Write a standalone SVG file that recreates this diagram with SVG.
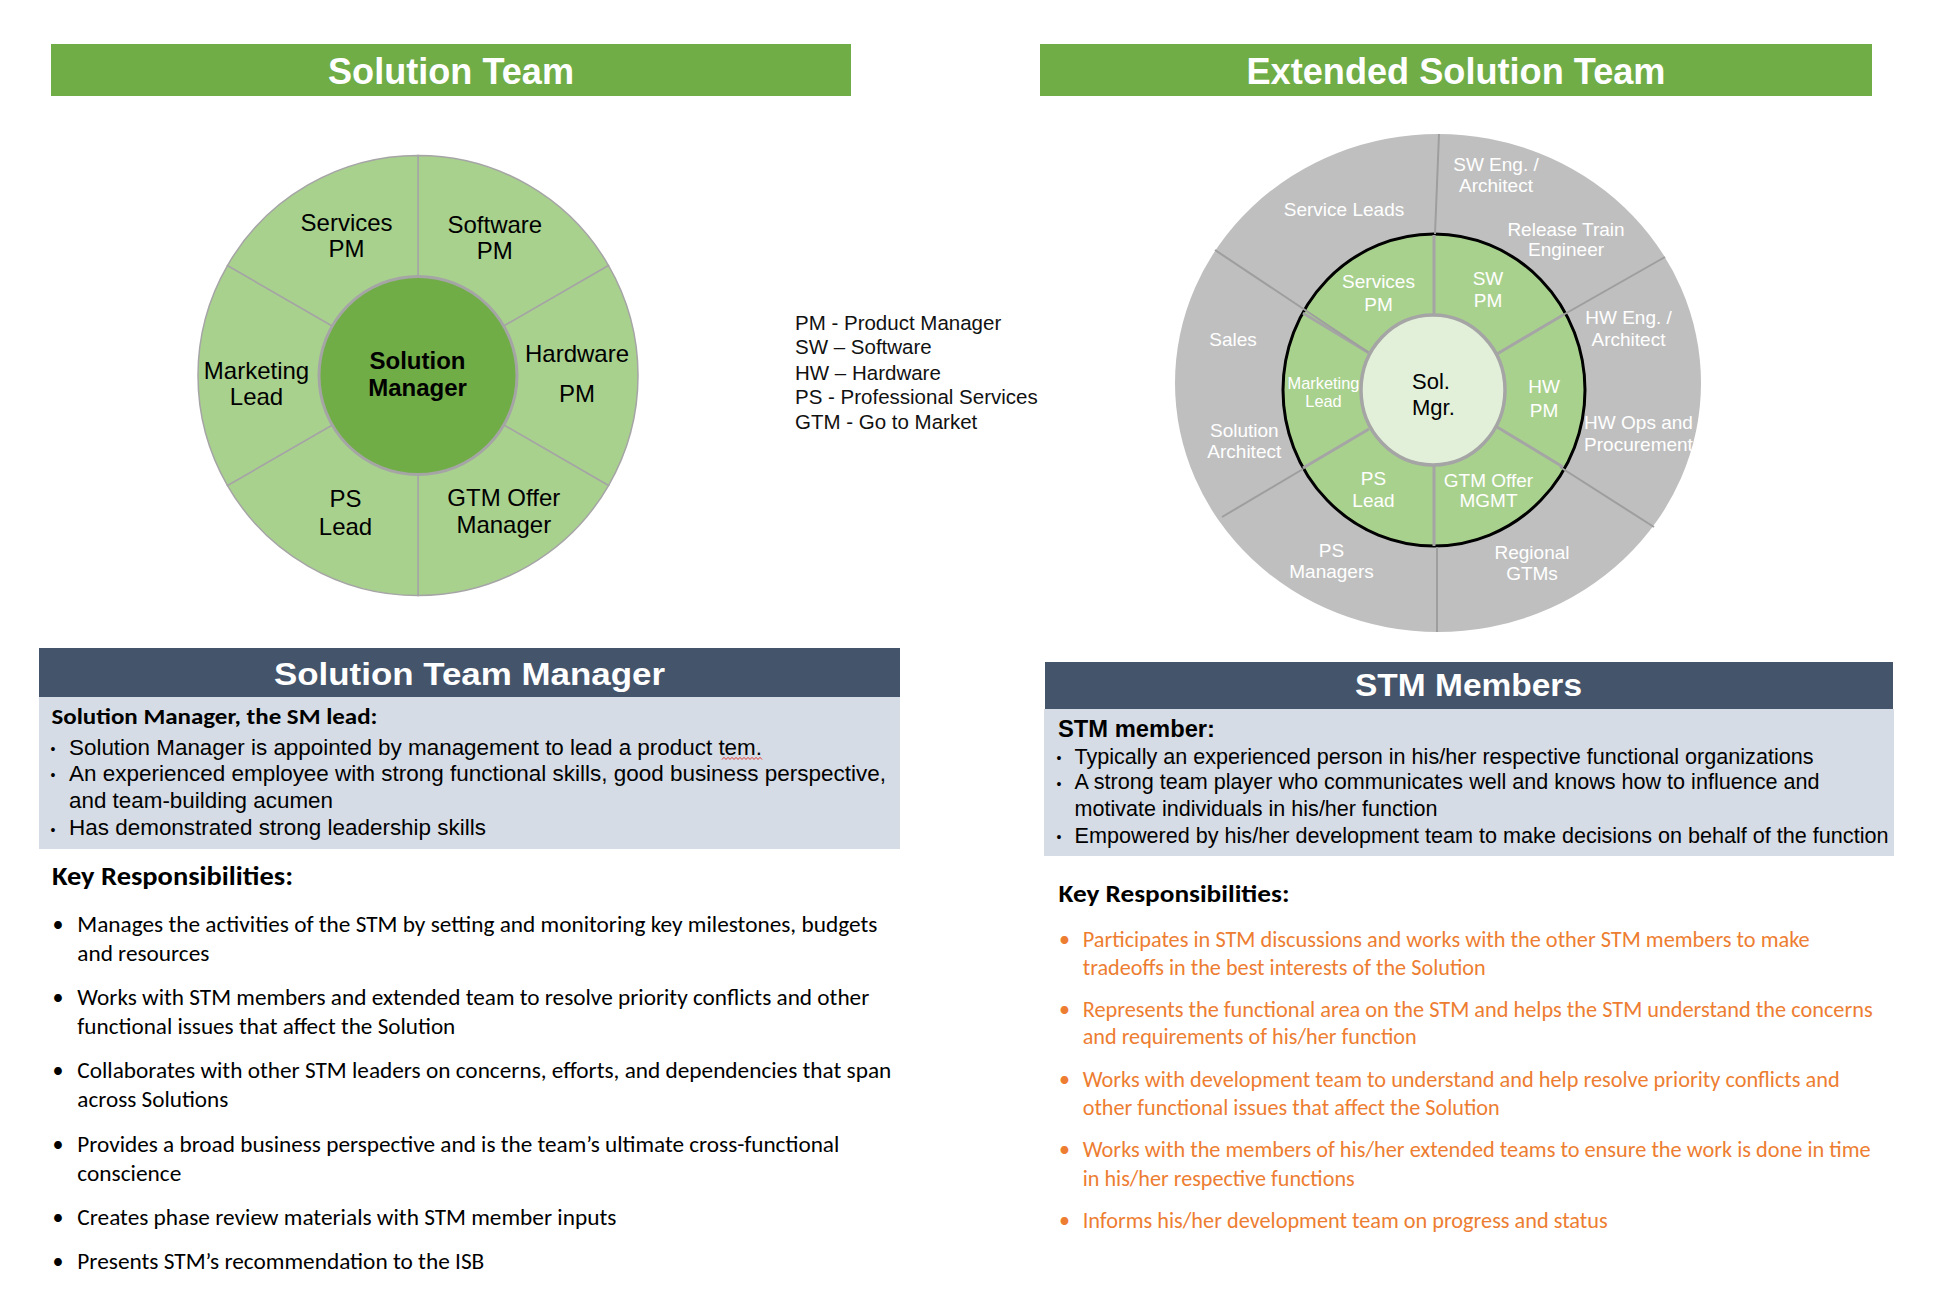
<svg xmlns="http://www.w3.org/2000/svg" width="1960" height="1304" viewBox="0 0 1960 1304">
<style>
.ar{font-family:"Liberation Sans",Arial,sans-serif}
.ca{font-family:Carlito,Lato,"Liberation Sans",sans-serif}
.b{font-weight:bold}
.m{text-anchor:middle}
.banner{fill:#70AD47}
.btitle{font-size:37px;fill:#fff;font-weight:bold}
.hdr{fill:#44546A}
.htitle{font-size:32px;fill:#fff;font-weight:bold}
.lbox{fill:#D6DCE5}
.sec{fill:#A9D18E;stroke:#A5A5A5;stroke-width:1.5}
.l24{font-size:24px;fill:#000}
.w19{font-size:19px;fill:#fff}
.w16{font-size:16.4px;fill:#fff}
.leg{font-size:20.5px;fill:#111}
.bt{font-size:22.4px;fill:#000}
.bt2{font-size:21.6px;fill:#000}
.li{font-size:22px;fill:#000}
.lo{font-size:22px;fill:#ED7D31}
.div{stroke:#A5A5A5;stroke-width:3;fill:none}
.odiv{stroke:#9E9E9E;stroke-width:2;fill:none}
</style>
<rect width="1960" height="1304" fill="#fff"/>

<!-- Solution Team banner -->
<g id="solution-team-banner">
<rect class="banner" x="51" y="44" width="800" height="52"/>
<text class="ar btitle m" x="451" y="84" textLength="246" lengthAdjust="spacingAndGlyphs">Solution Team</text>
</g>

<!-- Solution Team wheel -->
<g id="solution-team-wheel">
<g id="st-software-pm">
<path class="sec" d="M418,155.5 A220,220 0 0 1 608.53,265.5 L503.74,326 A99,99 0 0 0 418,276.5 Z"/>
<text class="ar l24 m" x="494.8" y="233">Software</text>
<text class="ar l24 m" x="494.8" y="259">PM</text>
</g>
<g id="st-hardware-pm">
<path class="sec" d="M608.53,265.5 A220,220 0 0 1 608.53,485.5 L503.74,425 A99,99 0 0 0 503.74,326 Z"/>
<text class="ar l24 m" x="577" y="362.3">Hardware</text>
<text class="ar l24 m" x="577" y="402.3">PM</text>
</g>
<g id="st-gtm-offer-manager">
<path class="sec" d="M608.53,485.5 A220,220 0 0 1 418,595.5 L418,474.5 A99,99 0 0 0 503.74,425 Z"/>
<text class="ar l24 m" x="503.8" y="505.7">GTM Offer</text>
<text class="ar l24 m" x="503.8" y="533">Manager</text>
</g>
<g id="st-ps-lead">
<path class="sec" d="M418,595.5 A220,220 0 0 1 227.47,485.5 L332.26,425 A99,99 0 0 0 418,474.5 Z"/>
<text class="ar l24 m" x="345.5" y="507.3">PS</text>
<text class="ar l24 m" x="345.5" y="534.7">Lead</text>
</g>
<g id="st-marketing-lead">
<path class="sec" d="M227.47,485.5 A220,220 0 0 1 227.47,265.5 L332.26,326 A99,99 0 0 0 332.26,425 Z"/>
<text class="ar l24 m" x="256.5" y="379">Marketing</text>
<text class="ar l24 m" x="256.5" y="405">Lead</text>
</g>
<g id="st-services-pm">
<path class="sec" d="M227.47,265.5 A220,220 0 0 1 418,155.5 L418,276.5 A99,99 0 0 0 332.26,326 Z"/>
<text class="ar l24 m" x="346.6" y="230.7">Services</text>
<text class="ar l24 m" x="346.6" y="257.3">PM</text>
</g>
<g id="st-solution-manager">
<circle cx="418" cy="375.5" r="99" fill="#70AD47" stroke="#A5A5A5" stroke-width="3"/>
<text class="ar l24 b m" x="417.5" y="369">Solution</text>
<text class="ar l24 b m" x="417.5" y="396">Manager</text>
</g>
</g>

<!-- Legend -->
<g id="legend">
<text class="ar leg" x="795" y="330">PM - Product Manager</text>
<text class="ar leg" x="795" y="354">SW – Software</text>
<text class="ar leg" x="795" y="380">HW – Hardware</text>
<text class="ar leg" x="795" y="404">PS - Professional Services</text>
<text class="ar leg" x="795" y="429.3">GTM - Go to Market</text>
</g>

<!-- Extended Solution Team banner -->
<g id="extended-team-banner">
<rect class="banner" x="1040" y="44" width="832" height="52"/>
<text class="ar btitle m" x="1456" y="84" textLength="419" lengthAdjust="spacingAndGlyphs">Extended Solution Team</text>
</g>

<!-- Extended Solution Team wheel -->
<g id="extended-team-wheel">
<g id="ext-outer-ring">
<ellipse cx="1438" cy="383" rx="263" ry="249" fill="#BFBFBF"/>
</g>
<g id="ext-inner-ring">
<ellipse cx="1434" cy="390" rx="151" ry="156" fill="#A9D18E" stroke="#000" stroke-width="3"/>
</g>
<g id="ext-dividers">
<line class="div" x1="1434" y1="235" x2="1434" y2="316"/>
<line class="div" x1="1497" y1="354" x2="1563" y2="315"/>
<line class="div" x1="1497" y1="427" x2="1563" y2="467"/>
<line class="div" x1="1434" y1="464" x2="1434" y2="546"/>
<line class="div" x1="1369" y1="429" x2="1303" y2="468"/>
<line class="div" x1="1369" y1="353" x2="1303" y2="313"/>
<line class="odiv" x1="1439" y1="134" x2="1435" y2="234"/>
<line class="odiv" x1="1665" y1="257" x2="1563" y2="315"/>
<line class="odiv" x1="1654" y1="527" x2="1560" y2="467"/>
<line class="odiv" x1="1437" y1="547" x2="1437" y2="632"/>
<line class="odiv" x1="1222" y1="517" x2="1303" y2="469"/>
<line class="odiv" x1="1215" y1="250" x2="1368" y2="352"/>
</g>
<g id="ext-sw-eng-architect">
<text class="ar w19 m" x="1496" y="170.7">SW Eng. /</text>
<text class="ar w19 m" x="1496" y="192">Architect</text>
</g>
<g id="ext-service-leads">
<text class="ar w19 m" x="1344" y="216.4">Service Leads</text>
</g>
<g id="ext-release-train-engineer">
<text class="ar w19 m" x="1566" y="235.7">Release Train</text>
<text class="ar w19 m" x="1566" y="256">Engineer</text>
</g>
<g id="ext-hw-eng-architect">
<text class="ar w19 m" x="1628.5" y="324">HW Eng. /</text>
<text class="ar w19 m" x="1628.5" y="345.7">Architect</text>
</g>
<g id="ext-sales">
<text class="ar w19 m" x="1233" y="346.4">Sales</text>
</g>
<g id="ext-solution-architect">
<text class="ar w19 m" x="1244.3" y="436.8">Solution</text>
<text class="ar w19 m" x="1244.3" y="458.2">Architect</text>
</g>
<g id="ext-hw-ops-procurement">
<text class="ar w19 m" x="1638.5" y="429">HW Ops and</text>
<text class="ar w19 m" x="1638.5" y="451">Procurement</text>
</g>
<g id="ext-ps-managers">
<text class="ar w19 m" x="1331.5" y="557">PS</text>
<text class="ar w19 m" x="1331.5" y="577.5">Managers</text>
</g>
<g id="ext-regional-gtms">
<text class="ar w19 m" x="1532" y="559">Regional</text>
<text class="ar w19 m" x="1532" y="579.6">GTMs</text>
</g>
<g id="ext-services-pm">
<text class="ar w19 m" x="1378.5" y="288.3">Services</text>
<text class="ar w19 m" x="1378.5" y="311">PM</text>
</g>
<g id="ext-sw-pm">
<text class="ar w19 m" x="1488" y="285">SW</text>
<text class="ar w19 m" x="1488" y="307">PM</text>
</g>
<g id="ext-marketing-lead">
<text class="ar w16 m" x="1323.5" y="389">Marketing</text>
<text class="ar w16 m" x="1323.5" y="407.3">Lead</text>
</g>
<g id="ext-hw-pm">
<text class="ar w19 m" x="1544" y="393.3">HW</text>
<text class="ar w19 m" x="1544" y="416.7">PM</text>
</g>
<g id="ext-ps-lead">
<text class="ar w19 m" x="1373.5" y="485">PS</text>
<text class="ar w19 m" x="1373.5" y="507.3">Lead</text>
</g>
<g id="ext-gtm-offer-mgmt">
<text class="ar w19 m" x="1488.5" y="486.7">GTM Offer</text>
<text class="ar w19 m" x="1488.5" y="507.3">MGMT</text>
</g>
<g id="ext-sol-mgr">
<ellipse cx="1433" cy="390" rx="72" ry="75" fill="#E2F0D9" stroke="#A5A5A5" stroke-width="3.5"/>
<text class="ar" x="1412" y="389.3" font-size="22" fill="#000">Sol.</text>
<text class="ar" x="1412" y="415" font-size="22" fill="#000">Mgr.</text>
</g>
</g>

<!-- Solution Team Manager panel -->
<g id="solution-team-manager">
<rect class="hdr" x="39" y="648" width="861" height="49"/>
<text class="ar htitle m" x="469.5" y="685" textLength="391" lengthAdjust="spacingAndGlyphs">Solution Team Manager</text>
<rect class="lbox" x="39" y="697" width="861" height="152"/>
<text class="ca b" x="51.5" y="723.5" font-size="22" fill="#000" textLength="326" lengthAdjust="spacingAndGlyphs">Solution Manager, the SM lead:</text>
<text class="ar" x="50.5" y="754" font-size="14" fill="#000">•</text>
<text class="ar bt" x="69" y="755" textLength="693" lengthAdjust="spacingAndGlyphs">Solution Manager is appointed by management to lead a product tem.</text>
<path d="M722,759.5 l2,-2.2 l2,2.2 l2,-2.2 l2,2.2 l2,-2.2 l2,2.2 l2,-2.2 l2,2.2 l2,-2.2 l2,2.2 l2,-2.2 l2,2.2 l2,-2.2 l2,2.2 l2,-2.2 l2,2.2 l2,-2.2 l2,2.2 l2,-2.2 l2,2.2" fill="none" stroke="#E3403A" stroke-width="1"/>
<text class="ar" x="50.5" y="780" font-size="14" fill="#000">•</text>
<text class="ar bt" x="69" y="780.5" textLength="817" lengthAdjust="spacingAndGlyphs">An experienced employee with strong functional skills, good business perspective,</text>
<text class="ar bt" x="69" y="807.5" textLength="264" lengthAdjust="spacingAndGlyphs">and team-building acumen</text>
<text class="ar" x="50.5" y="834.5" font-size="14" fill="#000">•</text>
<text class="ar bt" x="69" y="835" textLength="417" lengthAdjust="spacingAndGlyphs">Has demonstrated strong leadership skills</text>
</g>

<!-- Solution Team Manager responsibilities -->
<g id="stm-key-responsibilities">
<text class="ca b" x="52" y="885" font-size="26" fill="#000" textLength="241" lengthAdjust="spacingAndGlyphs">Key Responsibilities:</text>
<g class="ca li">
<text x="52.5" y="932.3">•</text>
<text x="77.3" y="932.3" textLength="800" lengthAdjust="spacingAndGlyphs">Manages the activities of the STM by setting and monitoring key milestones, budgets</text>
<text x="77.3" y="961" textLength="132" lengthAdjust="spacingAndGlyphs">and resources</text>
<text x="52.5" y="1005">•</text>
<text x="77.3" y="1005" textLength="792" lengthAdjust="spacingAndGlyphs">Works with STM members and extended team to resolve priority conflicts and other</text>
<text x="77.3" y="1033.5" textLength="378" lengthAdjust="spacingAndGlyphs">functional issues that affect the Solution</text>
<text x="52.5" y="1078.3">•</text>
<text x="77.3" y="1078.3" textLength="814" lengthAdjust="spacingAndGlyphs">Collaborates with other STM leaders on concerns, efforts, and dependencies that span</text>
<text x="77.3" y="1106.7" textLength="151" lengthAdjust="spacingAndGlyphs">across Solutions</text>
<text x="52.5" y="1151.7">•</text>
<text x="77.3" y="1151.7" textLength="762" lengthAdjust="spacingAndGlyphs">Provides a broad business perspective and is the team’s ultimate cross-functional</text>
<text x="77.3" y="1181" textLength="104" lengthAdjust="spacingAndGlyphs">conscience</text>
<text x="52.5" y="1225">•</text>
<text x="77.3" y="1225" textLength="539" lengthAdjust="spacingAndGlyphs">Creates phase review materials with STM member inputs</text>
<text x="52.5" y="1269">•</text>
<text x="77.3" y="1269" textLength="407" lengthAdjust="spacingAndGlyphs">Presents STM’s recommendation to the ISB</text>
</g>
</g>

<!-- STM Members panel -->
<g id="stm-members">
<rect class="hdr" x="1045" y="662" width="848" height="47"/>
<text class="ar htitle m" x="1468.5" y="696.3" textLength="227" lengthAdjust="spacingAndGlyphs">STM Members</text>
<rect class="lbox" x="1044" y="709" width="850" height="147"/>
<text class="ar b" x="1058" y="736.5" font-size="23" fill="#000" textLength="157" lengthAdjust="spacingAndGlyphs">STM member:</text>
<text class="ar" x="1056.5" y="763" font-size="14" fill="#000">•</text>
<text class="ar bt2" x="1074.5" y="763.5" textLength="739" lengthAdjust="spacingAndGlyphs">Typically an experienced person in his/her respective functional organizations</text>
<text class="ar" x="1056.5" y="788.5" font-size="14" fill="#000">•</text>
<text class="ar bt2" x="1074.5" y="789" textLength="745" lengthAdjust="spacingAndGlyphs">A strong team player who communicates well and knows how to influence and</text>
<text class="ar bt2" x="1074.5" y="815.5" textLength="363" lengthAdjust="spacingAndGlyphs">motivate individuals in his/her function</text>
<text class="ar" x="1056.5" y="842" font-size="14" fill="#000">•</text>
<text class="ar bt2" x="1074.5" y="842.5" textLength="814" lengthAdjust="spacingAndGlyphs">Empowered by his/her development team to make decisions on behalf of the function</text>
</g>

<!-- STM Members responsibilities -->
<g id="members-key-responsibilities">
<text class="ca b" x="1058.5" y="901.5" font-size="24.5" fill="#000" textLength="231" lengthAdjust="spacingAndGlyphs">Key Responsibilities:</text>
<g class="ca lo">
<text x="1059" y="947.3">•</text>
<text x="1082.7" y="947.3" textLength="727" lengthAdjust="spacingAndGlyphs">Participates in STM discussions and works with the other STM members to make</text>
<text x="1082.7" y="975" textLength="403" lengthAdjust="spacingAndGlyphs">tradeoffs in the best interests of the Solution</text>
<text x="1059" y="1016.7">•</text>
<text x="1082.7" y="1016.7" textLength="790" lengthAdjust="spacingAndGlyphs">Represents the functional area on the STM and helps the STM understand the concerns</text>
<text x="1082.7" y="1044.3" textLength="334" lengthAdjust="spacingAndGlyphs">and requirements of his/her function</text>
<text x="1059" y="1086.7">•</text>
<text x="1082.7" y="1086.7" textLength="757" lengthAdjust="spacingAndGlyphs">Works with development team to understand and help resolve priority conflicts and</text>
<text x="1082.7" y="1115" textLength="417" lengthAdjust="spacingAndGlyphs">other functional issues that affect the Solution</text>
<text x="1059" y="1157.3">•</text>
<text x="1082.7" y="1157.3" textLength="788" lengthAdjust="spacingAndGlyphs">Works with the members of his/her extended teams to ensure the work is done in time</text>
<text x="1082.7" y="1185.7" textLength="272" lengthAdjust="spacingAndGlyphs">in his/her respective functions</text>
<text x="1059" y="1228.3">•</text>
<text x="1082.7" y="1228.3" textLength="525" lengthAdjust="spacingAndGlyphs">Informs his/her development team on progress and status</text>
</g>
</g>
</svg>
